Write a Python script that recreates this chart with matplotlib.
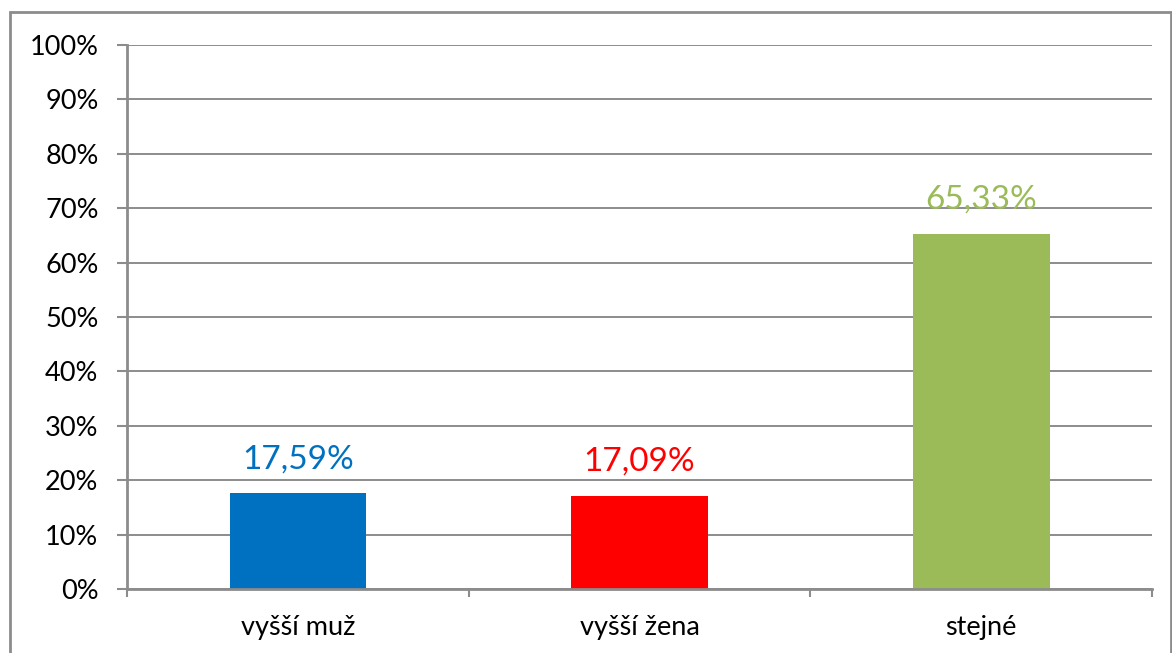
import matplotlib
matplotlib.use("Agg")
import matplotlib.pyplot as plt
from matplotlib.patches import Rectangle
from matplotlib.ticker import MultipleLocator, FuncFormatter, FixedLocator, NullFormatter

plt.rcParams['font.family'] = ['Lato', 'DejaVu Sans']

# data
categories = ['vyšší muž', 'vyšší žena', 'stejné']
values = [17.59, 17.09, 65.33]
bar_colors = ['#0070C0', '#FF0000', '#9BBB59']

GRAY = '#8c8c8c'

fig = plt.figure(figsize=(11.72, 6.53), dpi=100)
ax = fig.add_axes([127 / 1172, 1 - 589 / 653, (1152 - 127) / 1172, (589 - 45) / 653])

x = range(len(categories))
ax.bar(x, values, width=0.40, color=bar_colors, zorder=3)

for xi, v, c in zip(x, values, bar_colors):
    ax.annotate(f'{v:.2f}%'.replace('.', ','), (xi, v), xytext=(0, 18),
                textcoords='offset points', ha='center', va='baseline',
                fontsize=24, color=c)

ax.set_xlim(-0.5, 2.5)
ax.set_ylim(0, 100)
ax.yaxis.set_major_locator(MultipleLocator(10))
ax.yaxis.set_major_formatter(FuncFormatter(lambda v, p: f'{v:.0f}%'))
ax.grid(axis='y', color=GRAY, lw=1.4, zorder=0)

# category labels in centres, ticks at boundaries
ax.xaxis.set_major_locator(FixedLocator([-0.5, 0.5, 1.5, 2.5]))
ax.xaxis.set_major_formatter(NullFormatter())
ax.xaxis.set_minor_locator(FixedLocator(list(x)))
ax.set_xticklabels(categories, minor=True)
ax.tick_params(axis='x', which='minor', length=0, pad=19, labelsize=19.5)
ax.tick_params(axis='x', which='major', length=6, width=1.5, color=GRAY)
ax.tick_params(axis='y', length=7.5, width=1.5, color=GRAY, labelsize=19.5, pad=13)

for s in ['top', 'right']:
    ax.spines[s].set_visible(False)
for s in ['left', 'bottom']:
    ax.spines[s].set_color(GRAY)
    ax.spines[s].set_linewidth(2)
    ax.spines[s].set_zorder(4)

# chart border
fig.patches.append(Rectangle((10 / 1172, -0.05), (1171 - 10) / 1172, 1.05 - 12 / 653,
                             transform=fig.transFigure, fill=False,
                             ec=GRAY, lw=2, zorder=10))

fig.savefig('out.png', dpi=100, facecolor='white')
